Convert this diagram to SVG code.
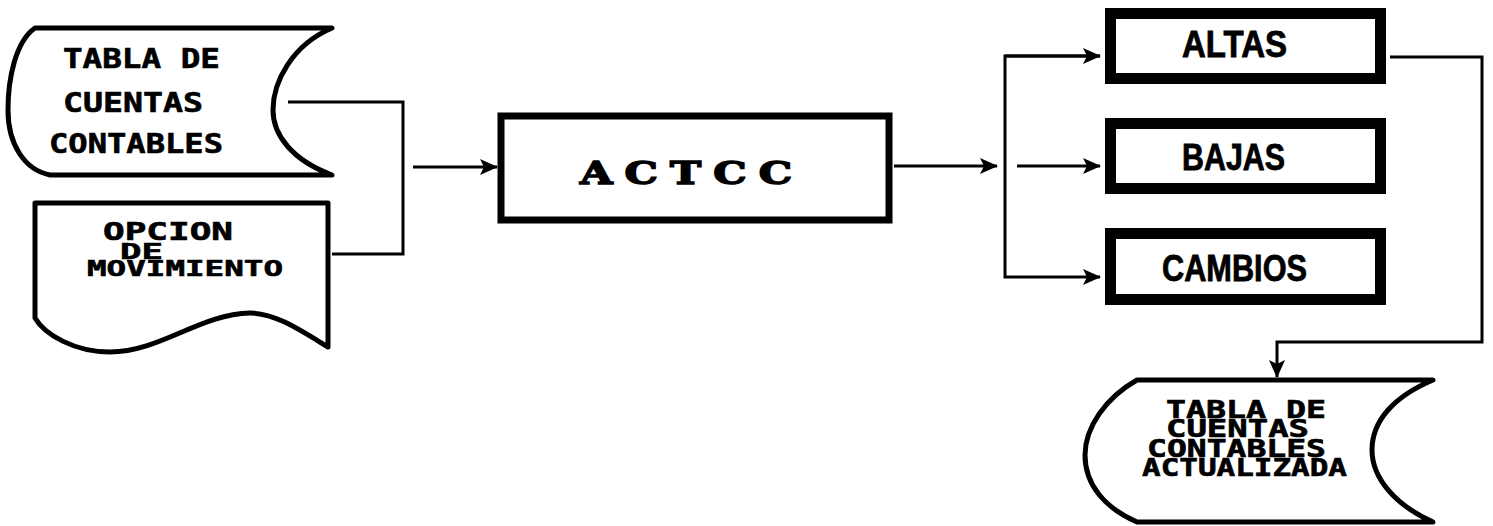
<svg xmlns="http://www.w3.org/2000/svg" width="1493" height="526" viewBox="0 0 1493 526">
  <style>
    .shape { fill: #ffffff; stroke: #000000; stroke-width: 5; stroke-linejoin: round; }
    .proc { fill: #ffffff; stroke: #000000; stroke-width: 7; }
    .opt { fill: #ffffff; stroke: #000000; stroke-width: 11; }
    .conn { fill: none; stroke: #000000; stroke-width: 3; }
    .pix { font-family: "DejaVu Sans Mono", "Liberation Mono", monospace; font-weight: bold; fill: #000000; stroke: #000000; stroke-width: 0.6; }
    .heavy { font-family: "DejaVu Serif", "Liberation Serif", serif; font-weight: bold; fill: #000000; stroke: #000000; stroke-width: 1.5; }
    .cond { font-family: "Liberation Sans", "DejaVu Sans", sans-serif; font-weight: bold; fill: #000000; stroke: #000000; stroke-width: 0.8; }
  </style>
  <defs>
    <marker id="arrow" markerUnits="userSpaceOnUse" markerWidth="18" markerHeight="16" refX="17" refY="8" orient="auto">
      <path d="M0,0 L18,8 L0,16 L4,8 Z" fill="#000000"/>
    </marker>
  </defs>

  <g id="connectors">
    <polyline class="conn" points="288,102 403,102 403,254 332,254"/>
    <line class="conn" x1="413" y1="167" x2="497" y2="167" marker-end="url(#arrow)"/>
    <line class="conn" x1="894" y1="166" x2="997" y2="166" marker-end="url(#arrow)"/>
    <polyline class="conn" points="1100,56 1005,56 1005,277 1100,277" marker-end="url(#arrow)"/>
    <line class="conn" x1="1005" y1="56" x2="1100" y2="56" marker-end="url(#arrow)"/>
    <line class="conn" x1="1017" y1="166" x2="1100" y2="166" marker-end="url(#arrow)"/>
    <polyline class="conn" points="1390,57 1482,57 1482,342 1277,342 1277,377" marker-end="url(#arrow)"/>
  </g>

  <g id="input-table">
    <path class="shape" d="M332,28 L35,28 C15,42 8,80 8,110 C8,145 25,170 50,175 L332,175 C292,160 273,135 273,110 C273,82 292,45 332,28 Z"/>
    <text class="pix" x="63" y="68" font-size="27" textLength="157" lengthAdjust="spacingAndGlyphs">TABLA DE</text>
    <text class="pix" x="63" y="112" font-size="27" textLength="140" lengthAdjust="spacingAndGlyphs">CUENTAS</text>
    <text class="pix" x="49" y="153" font-size="27" textLength="174" lengthAdjust="spacingAndGlyphs">CONTABLES</text>
  </g>

  <g id="input-option">
    <path class="shape" d="M35,203 L328,203 L328,347 C300,330 275,313 250,313 C200,314 160,352 110,352 C75,352 45,335 35,318 Z"/>
    <text class="pix" x="103" y="240" font-size="24" textLength="130" lengthAdjust="spacingAndGlyphs">OPCION</text>
    <text class="pix" x="120" y="259" font-size="22" textLength="43" lengthAdjust="spacingAndGlyphs">DE</text>
    <text class="pix" x="87" y="276" font-size="22" textLength="196" lengthAdjust="spacingAndGlyphs">MOVIMIENTO</text>
  </g>

  <g id="actcc">
    <rect class="proc" x="501" y="116" width="388" height="104"/>
    <text class="heavy" transform="translate(580,184) scale(1.35,1)" x="0" y="0" font-size="31" letter-spacing="9">ACTCC</text>
  </g>

  <g id="altas">
    <rect class="opt" x="1110.5" y="13.5" width="270" height="65"/>
    <text class="cond" x="1182" y="57" font-size="36" textLength="105" lengthAdjust="spacingAndGlyphs">ALTAS</text>
  </g>

  <g id="bajas">
    <rect class="opt" x="1110.5" y="123.5" width="270" height="65"/>
    <text class="cond" x="1182" y="170" font-size="36" textLength="103" lengthAdjust="spacingAndGlyphs">BAJAS</text>
  </g>

  <g id="cambios">
    <rect class="opt" x="1110.5" y="233.5" width="270" height="66"/>
    <text class="cond" x="1162" y="281" font-size="36" textLength="145" lengthAdjust="spacingAndGlyphs">CAMBIOS</text>
  </g>

  <g id="output-table">
    <path class="shape" d="M1433,380 L1137,380 C1105,398 1085,428 1085,455 C1085,485 1105,508 1137,522 L1433,522 C1395,505 1372,478 1372,450 C1372,420 1395,396 1433,380 Z"/>
    <text class="pix" x="1166" y="418" font-size="24" textLength="160" lengthAdjust="spacingAndGlyphs">TABLA DE</text>
    <text class="pix" x="1166" y="437" font-size="24" textLength="143" lengthAdjust="spacingAndGlyphs">CUENTAS</text>
    <text class="pix" x="1147" y="457" font-size="24" textLength="179" lengthAdjust="spacingAndGlyphs">CONTABLES</text>
    <text class="pix" x="1142" y="476" font-size="24" textLength="205" lengthAdjust="spacingAndGlyphs">ACTUALIZADA</text>
  </g>
</svg>
